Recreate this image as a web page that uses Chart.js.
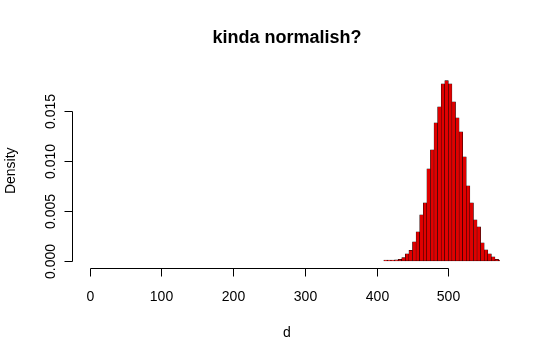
<!DOCTYPE html>
<html>
<head>
<meta charset="utf-8">
<script src="https://cdn.jsdelivr.net/npm/chart.js@4.4.0/dist/chart.umd.min.js"></script>
<style>
  body { margin: 0; background: #fff; }
  #wrap { width: 540px; height: 360px; }
</style>
</head>
<body>
<div id="wrap"><canvas id="myChart"></canvas></div>
<script>
// histogram bins (left edges, width 5) and densities
const binWidth = 5;
const binStarts = [410, 415, 420, 425, 430, 435, 440, 445, 450, 455, 460, 465, 470, 475, 480, 485,
  490, 495, 500, 505, 510, 515, 520, 525, 530, 535, 540, 545, 550, 555, 560, 565, 570];
const density = [0.00007, 0.00007, 0.00007, 0.0001, 0.00015, 0.00033, 0.0007, 0.00105, 0.0019, 0.0029,
  0.0046, 0.0058, 0.0092, 0.0111, 0.0138, 0.0154, 0.0177, 0.0180, 0.0177, 0.0159, 0.0143, 0.0129,
  0.0104, 0.0075, 0.0058, 0.0041, 0.0034, 0.0018, 0.0011, 0.0007, 0.0004, 0.00015, 0.00007];

const xTicks = [0, 100, 200, 300, 400, 500];
const yTicks = [0, 0.005, 0.010, 0.015];

const font = '"Liberation Sans", Arial, Helvetica, sans-serif';

// R style axes: line only from first to last tick, ticks pointing out
const rAxes = {
  id: 'rAxes',
  afterDraw(chart) {
    const { ctx, chartArea, scales: { x, y } } = chart;
    ctx.save();
    ctx.strokeStyle = '#000';
    ctx.fillStyle = '#000';
    ctx.lineWidth = 1;

    // x axis
    const xb = Math.round(chartArea.bottom) + 0.5;
    const xs = x.ticks.map(t => Math.round(x.getPixelForValue(t.value)) + 0.5);
    ctx.beginPath();
    ctx.moveTo(xs[0], xb);
    ctx.lineTo(xs[xs.length - 1], xb);
    xs.forEach(p => { ctx.moveTo(p, xb); ctx.lineTo(p, xb + 8); });
    ctx.stroke();
    ctx.font = '14px ' + font;
    ctx.textAlign = 'center';
    ctx.textBaseline = 'alphabetic';
    x.ticks.forEach((t, i) => ctx.fillText(t.label, xs[i], 301));

    // y axis
    const yl = Math.round(chartArea.left) - 1.5;
    const ys = y.ticks.map(t => Math.round(y.getPixelForValue(t.value)) + 0.5);
    ctx.beginPath();
    ctx.moveTo(yl, ys[0]);
    ctx.lineTo(yl, ys[ys.length - 1]);
    ys.forEach(p => { ctx.moveTo(yl, p); ctx.lineTo(yl - 8, p); });
    ctx.stroke();
    y.ticks.forEach((t, i) => {
      ctx.save();
      ctx.translate(55, ys[i]);
      ctx.rotate(-Math.PI / 2);
      ctx.fillText(t.label, 0, 0);
      ctx.restore();
    });

    // titles
    const cx = (chartArea.left + chartArea.right) / 2;
    ctx.fillText('d', cx, 337);
    ctx.save();
    ctx.translate(15, (chartArea.top + chartArea.bottom) / 2);
    ctx.rotate(-Math.PI / 2);
    ctx.fillText('Density', 0, 0);
    ctx.restore();
    ctx.font = 'bold 18px ' + font;
    ctx.fillText('kinda normalish?', cx, 43);
    ctx.restore();
  }
};

const ctx = document.getElementById('myChart').getContext('2d');
new Chart(ctx, {
  type: 'bar',
  data: {
    datasets: [{
      data: binStarts.map((s, i) => ({ x: s + binWidth / 2, y: density[i] })),
      backgroundColor: '#e00000',
      borderColor: '#000',
      borderWidth: 0.5,
      borderSkipped: false,
      barPercentage: 1,
      categoryPercentage: 1,
    }],
  },
  options: {
    responsive: true,
    maintainAspectRatio: false,
    animation: false,
    layout: { padding: { left: 74, right: 40, top: 73.5, bottom: 92 } },
    plugins: { legend: { display: false }, tooltip: { enabled: false } },
    scales: {
      x: {
        type: 'linear',
        display: false,
        offset: false,
        min: -22,
        max: 572,
        afterBuildTicks: s => { s.ticks = xTicks.map(v => ({ value: v })); },
      },
      y: {
        display: false,
        min: -0.00072,
        max: 0.01872,
        afterBuildTicks: s => { s.ticks = yTicks.map(v => ({ value: v })); },
        ticks: { callback: v => v.toFixed(3) },
      },
    },
  },
  plugins: [rAxes],
});
</script>
</body>
</html>
